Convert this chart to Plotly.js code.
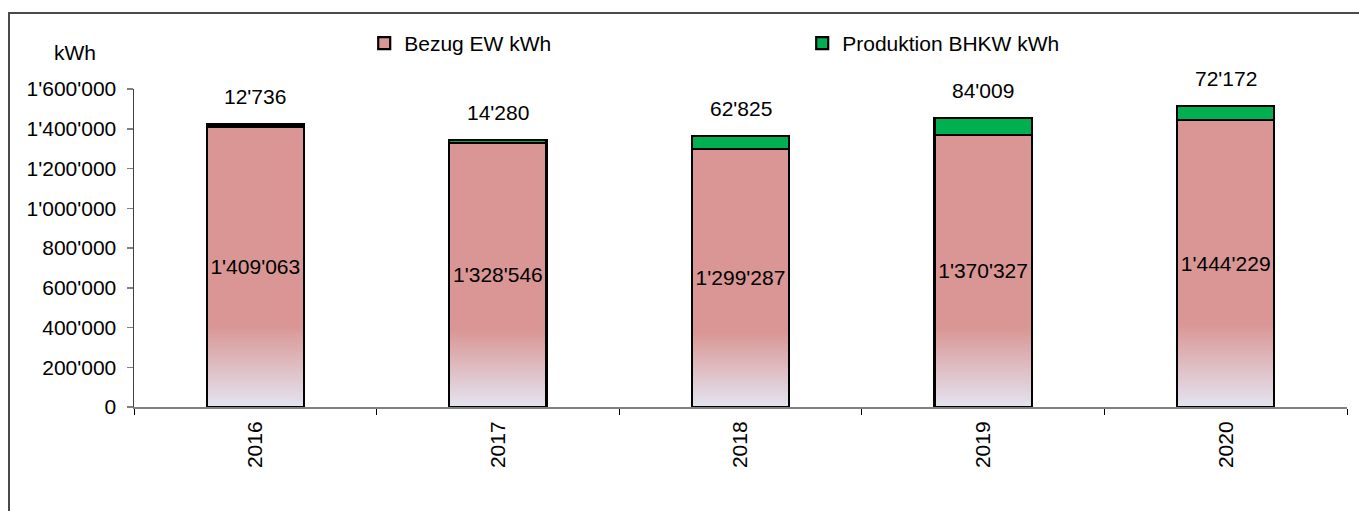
<!DOCTYPE html>
<html>
<head>
<meta charset="utf-8">
<script src="https://cdn.plot.ly/plotly-3.0.1.min.js"></script>
<style>
  html, body { margin: 0; padding: 0; background: #fff; }
  #wrap { position: relative; width: 1359px; height: 511px; overflow: hidden; }
  #chart { position: absolute; left: 0; top: 0; width: 1359px; height: 511px; }
  #frame { position: absolute; left: 8px; top: 12px; width: 1400px; height: 600px;
           border-left: 2px solid #4a4a4a; border-top: 2px solid #4a4a4a; pointer-events: none; }
</style>
</head>
<body>
<div id="wrap">
  <div id="chart"></div>
  <div id="frame"></div>
</div>
<script>
const years = ['2016', '2017', '2018', '2019', '2020'];
const bezugEW = [1409063, 1328546, 1299287, 1370327, 1444229];
const produktionBHKW = [12736, 14280, 62825, 84009, 72172];
const yTicks = [0, 200000, 400000, 600000, 800000, 1000000, 1200000, 1400000, 1600000];

const FONT = 'Liberation Sans, Arial, sans-serif';
const FS = 21;

function fmt(n) {
  return String(n).replace(/\B(?=(\d{3})+(?!\d))/g, "'");
}

const traceBezug = {
  type: 'bar',
  name: 'Bezug EW kWh',
  x: years,
  y: bezugEW,
  width: 0.4,
  marker: { color: '#d99694', line: { color: '#000000', width: 2.2 } },
  texttemplate: '%{y:,d}',
  textposition: 'inside',
  insidetextanchor: 'middle',
  textangle: 0,
  constraintext: 'none',
  textfont: { family: FONT, size: FS, color: '#000000' },
  hoverinfo: 'skip'
};

const traceProd = {
  type: 'bar',
  name: 'Produktion BHKW kWh',
  x: years,
  y: produktionBHKW,
  width: 0.4,
  marker: { color: '#00b050', line: { color: '#000000', width: 2.2 } },
  textposition: 'none',
  hoverinfo: 'skip'
};

const annotations = years.map((yr, i) => ({
  x: i,
  y: bezugEW[i] + produktionBHKW[i],
  xref: 'x', yref: 'y',
  text: fmt(produktionBHKW[i]),
  showarrow: false,
  yanchor: 'bottom',
  yshift: 14,
  font: { family: FONT, size: FS, color: '#000000' }
}));

annotations.push({
  xref: 'paper', yref: 'paper',
  x: -0.049, y: 1.116,
  xanchor: 'center', yanchor: 'middle',
  text: 'kWh', showarrow: false,
  font: { family: FONT, size: FS, color: '#000000' }
});

const layout = {
  width: 1359,
  height: 511,
  margin: { l: 134, r: 12, t: 89, b: 104 },
  paper_bgcolor: '#ffffff',
  plot_bgcolor: '#ffffff',
  barmode: 'stack',
  separators: ".'",
  font: { family: FONT, size: FS, color: '#000000' },
  showlegend: true,
  legend: {
    orientation: 'h',
    xref: 'container', yref: 'container',
    x: 0.268, y: 0.955,
    xanchor: 'left', yanchor: 'top',
    entrywidth: 393,
    itemwidth: 30,
    font: { family: FONT, size: FS, color: '#000000' },
    bgcolor: 'rgba(0,0,0,0)',
    traceorder: 'normal'
  },
  xaxis: {
    type: 'category',
    range: [-0.5, 4.5],
    autorange: false,
    showgrid: false,
    zeroline: false,
    showline: true,
    linecolor: '#808080',
    linewidth: 2,
    ticks: 'outside',
    tickson: 'boundaries',
    ticklen: 6,
    tickcolor: '#000000',
    tickwidth: 1,
    tickangle: -90,
    ticklabelstandoff: 4,
    tickfont: { family: FONT, size: FS, color: '#000000' },
    fixedrange: true
  },
  yaxis: {
    range: [0, 1600000],
    autorange: false,
    tickvals: yTicks,
    tickformat: ',d',
    showgrid: false,
    zeroline: false,
    showline: true,
    linecolor: '#404040',
    linewidth: 1.5,
    ticks: 'outside',
    ticklen: 6,
    tickcolor: '#808080',
    tickwidth: 1.5,
    ticklabelstandoff: 6,
    tickfont: { family: FONT, size: FS, color: '#000000' },
    fixedrange: true
  },
  annotations: annotations
};

const gd = document.getElementById('chart');

function applyGradient() {
  const svg = gd.querySelector('svg.main-svg');
  if (!svg) return;
  let defs = svg.querySelector('defs');
  if (!defs) {
    defs = document.createElementNS('http://www.w3.org/2000/svg', 'defs');
    svg.insertBefore(defs, svg.firstChild);
  }
  if (!svg.querySelector('#bezugGrad')) {
    const ns = 'http://www.w3.org/2000/svg';
    const g = document.createElementNS(ns, 'linearGradient');
    g.setAttribute('id', 'bezugGrad');
    g.setAttribute('x1', '0'); g.setAttribute('y1', '0');
    g.setAttribute('x2', '0'); g.setAttribute('y2', '1');
    [['0', '#d99694'], ['0.71', '#d99694'], ['1', '#e4e4f1']].forEach(([o, c]) => {
      const s = document.createElementNS(ns, 'stop');
      s.setAttribute('offset', o);
      s.setAttribute('stop-color', c);
      g.appendChild(s);
    });
    defs.appendChild(g);
  }
  const traces = gd.querySelectorAll('.barlayer .trace.bars');
  if (traces.length) {
    traces[0].querySelectorAll('.point path').forEach(p => {
      p.style.fill = 'url(#bezugGrad)';
    });
  }
}

Plotly.newPlot(gd, [traceBezug, traceProd], layout, { staticPlot: true, displayModeBar: false })
  .then(() => { applyGradient(); gd.on && gd.on('plotly_afterplot', applyGradient); });
</script>
</body>
</html>
